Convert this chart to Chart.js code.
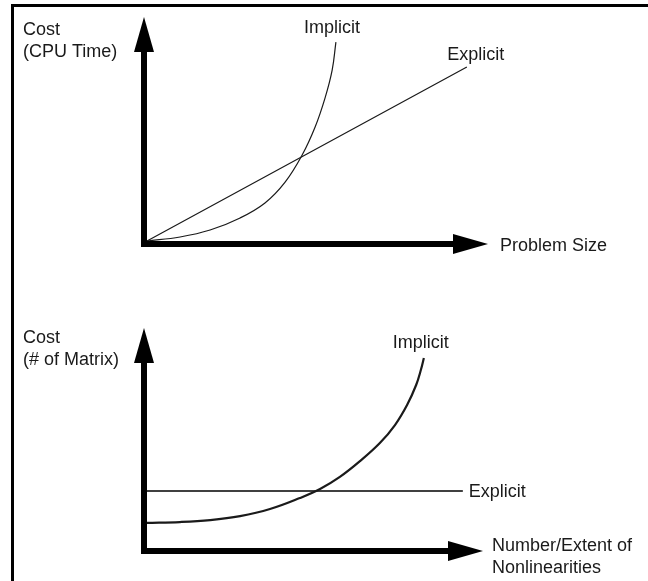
<!DOCTYPE html>
<html>
<head>
<meta charset="utf-8">
<script src="https://cdn.jsdelivr.net/npm/chart.js@4/dist/chart.umd.min.js"></script>
<style>
  html, body { margin: 0; padding: 0; background: #fff; }
  #page { position: relative; width: 648px; height: 581px; overflow: hidden; }
  #frame { position: absolute; left: 11px; top: 4px; right: -5px; bottom: -5px;
           border-top: 3px solid #000; border-left: 3px solid #000; }
  canvas { position: absolute; left: 0; }
  #topChart { top: 0; }
  #bottomChart { top: 290px; }
</style>
</head>
<body>
<div id="page">
  <div id="frame"></div>
  <canvas id="topChart" width="648" height="290"></canvas>
  <canvas id="bottomChart" width="648" height="291"></canvas>
</div>
<script>
// top panel: cost (CPU time) vs problem size, arbitrary units 0-100
const topImplicitX = [0, 9.7, 18.5, 27.3, 34.6, 40.5, 45.5, 49.3, 52.2, 54.3, 55.4];
const topImplicitY = [0, 1.8, 4.9, 10.3, 17.0, 26.3, 38.4, 50.9, 63.8, 76.3, 88.8];
const topExplicitX = [0, 93.8];
const topExplicitY = [0, 77.7];
const topYTitle = ['Cost', '(CPU Time)'];
const topXTitle = ['Problem Size'];

// bottom panel: cost (# of matrix) vs nonlinearities
const bottomImplicitX = [0, 9.8, 18.8, 27.7, 36.6, 45.5, 51.5, 57.4, 63.4, 69.3, 73.8, 77.4, 80.1, 81.5, 82.4];
const bottomImplicitY = [11.4, 11.8, 12.7, 14.5, 17.7, 22.7, 26.8, 32.3, 39.5, 47.7, 55.9, 65.0, 74.1, 80.9, 86.4];
const bottomExplicitX = [0, 94.0];
const bottomExplicitY = [25.9, 25.9];
const bottomYTitle = ['Cost', '(# of Matrix)'];
const bottomXTitle = ['Number/Extent of', 'Nonlinearities'];

const seriesNames = ['Implicit', 'Explicit'];
const FONT = '18px "Liberation Sans", Arial, sans-serif';
const INK = '#1a1a1a';

const toPoints = (xs, ys) => xs.map((x, i) => ({ x: x, y: ys[i] }));

// thick black axes with arrow heads
const arrowAxes = {
    id: 'arrowAxes',
    afterDatasetsDraw(chart) {
        const { ctx, chartArea: a } = chart;
        const head = 35, half = 10, w = 6;
        const ox = a.left - 3, oy = a.bottom + 3;
        ctx.save();
        ctx.fillStyle = '#000';
        ctx.fillRect(ox - w / 2, a.top + head - 1, w, oy + w / 2 - (a.top + head - 1));
        ctx.fillRect(ox - w / 2, oy - w / 2, a.right - head + 1 - (ox - w / 2), w);
        ctx.beginPath();
        ctx.moveTo(ox, a.top);
        ctx.lineTo(ox - half, a.top + head);
        ctx.lineTo(ox + half, a.top + head);
        ctx.closePath();
        ctx.fill();
        ctx.beginPath();
        ctx.moveTo(a.right, oy);
        ctx.lineTo(a.right - head, oy - half);
        ctx.lineTo(a.right - head, oy + half);
        ctx.closePath();
        ctx.fill();
        ctx.restore();
    }
};

// axis titles and series labels at the end of each curve
const textLabels = {
    id: 'textLabels',
    afterDraw(chart, args, opts) {
        const ctx = chart.ctx;
        ctx.save();
        ctx.font = FONT;
        ctx.fillStyle = INK;
        ctx.textAlign = 'left';
        ctx.textBaseline = 'alphabetic';
        (opts.titles || []).forEach(t => {
            t.lines.forEach((line, i) => ctx.fillText(line, t.x, t.y + i * t.step));
        });
        chart.data.datasets.forEach((ds, i) => {
            const meta = chart.getDatasetMeta(i);
            const last = meta.data[meta.data.length - 1];
            const p = ds.labelPos;
            ctx.textAlign = p.align;
            ctx.textBaseline = p.baseline;
            ctx.fillText(ds.label, last.x + p.dx, last.y + p.dy);
        });
        ctx.restore();
    }
};

function makeChart(id, datasets, padding, titles) {
    return new Chart(document.getElementById(id).getContext('2d'), {
        type: 'scatter',
        data: { datasets: datasets },
        options: {
            responsive: false,
            animation: false,
            layout: { padding: padding },
            scales: {
                x: { type: 'linear', min: 0, max: 100, display: false },
                y: { type: 'linear', min: 0, max: 100, display: false }
            },
            plugins: {
                legend: { display: false },
                tooltip: { enabled: false },
                textLabels: { titles: titles }
            }
        },
        plugins: [arrowAxes, textLabels]
    });
}

const lineStyle = (w, color) => ({
    showLine: true, pointRadius: 0, borderColor: color || INK, borderWidth: w,
    tension: 0.4, clip: false
});

makeChart('topChart', [
    Object.assign(lineStyle(1.2), {
        label: seriesNames[0], data: toPoints(topImplicitX, topImplicitY),
        labelPos: { dx: -4, dy: -9, align: 'center', baseline: 'alphabetic' }
    }),
    Object.assign(lineStyle(1.2), {
        label: seriesNames[1], data: toPoints(topExplicitX, topExplicitY),
        labelPos: { dx: 9, dy: -7, align: 'center', baseline: 'alphabetic' }
    })
], { left: 147, right: 160, top: 17, bottom: 49 }, [
    { lines: topYTitle, x: 23, y: 35, step: 22 },
    { lines: topXTitle, x: 500, y: 251, step: 22 }
]);

makeChart('bottomChart', [
    Object.assign(lineStyle(2.2), {
        label: seriesNames[0], data: toPoints(bottomImplicitX, bottomImplicitY),
        labelPos: { dx: -3, dy: -10, align: 'center', baseline: 'alphabetic' }
    }),
    Object.assign(lineStyle(1.4, '#000'), {
        label: seriesNames[1], data: toPoints(bottomExplicitX, bottomExplicitY),
        labelPos: { dx: 6, dy: 1, align: 'left', baseline: 'middle' }
    })
], { left: 147, right: 165, top: 38, bottom: 33 }, [
    { lines: bottomYTitle, x: 23, y: 53, step: 22 },
    { lines: bottomXTitle, x: 492, y: 261, step: 22 }
]);
</script>
</body>
</html>
